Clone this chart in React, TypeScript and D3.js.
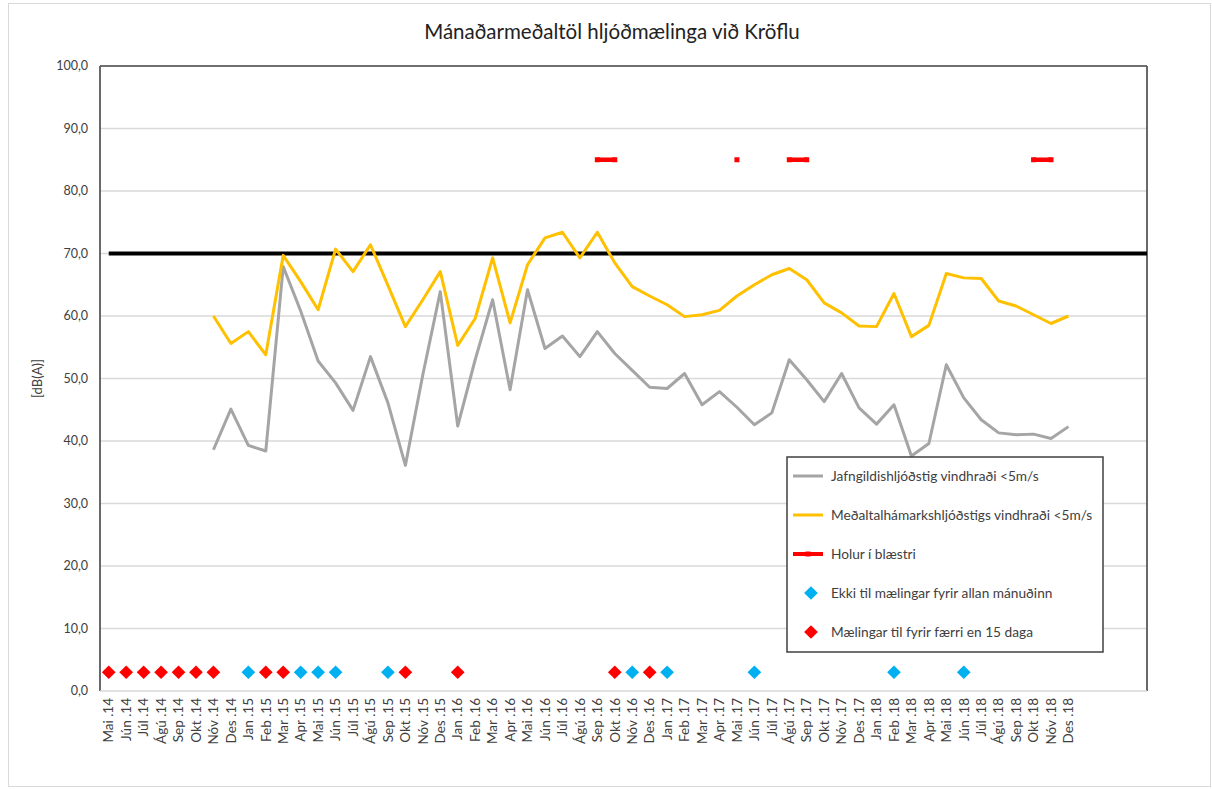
import React from "react";
import * as d3 from "d3";

const TITLE = "Mánaðarmeðaltöl hljóðmælinga við Kröflu";
const Y_LABEL = "[dB(A)]";

const months = [
  "Mai .14", "Jún .14", "Júl .14", "Ágú .14", "Sep .14", "Okt .14", "Nóv .14", "Des .14",
  "Jan .15", "Feb .15", "Mar .15", "Apr .15", "Mai .15", "Jún .15", "Júl .15", "Ágú .15", "Sep .15", "Okt .15", "Nóv .15", "Des .15",
  "Jan .16", "Feb .16", "Mar .16", "Apr .16", "Mai .16", "Jún .16", "Júl .16", "Ágú .16", "Sep .16", "Okt .16", "Nóv .16", "Des .16",
  "Jan .17", "Feb .17", "Mar .17", "Apr .17", "Mai .17", "Jún .17", "Júl .17", "Ágú .17", "Sep .17", "Okt .17", "Nóv .17", "Des .17",
  "Jan .18", "Feb .18", "Mar .18", "Apr .18", "Mai .18", "Jún .18", "Júl .18", "Ágú .18", "Sep .18", "Okt .18", "Nóv .18", "Des .18",
];
// empty category slots after the last labelled month
const EMPTY_SLOTS = 4;

const jafngildi: (number | null)[] = [
  null, null, null, null, null, null, 38.6, 45.1,
  39.3, 38.4, 67.9, 60.8, 52.8, 49.3, 44.9, 53.5, 46.1, 36.1, 50.6, 63.9,
  42.4, 53.0, 62.6, 48.2, 64.2, 54.8, 56.8, 53.5, 57.5, 54.0, 51.3, 48.6,
  48.4, 50.8, 45.8, 47.9, 45.4, 42.6, 44.5, 53.0, 49.8, 46.3, 50.8, 45.3,
  42.7, 45.8, 37.6, 39.6, 52.2, 46.9, 43.4, 41.3, 41.0, 41.1, 40.4, 42.3,
];

const hamark: (number | null)[] = [
  null, null, null, null, null, null, 60.0, 55.6,
  57.5, 53.8, 69.7, 65.5, 61.0, 70.7, 67.1, 71.4, 64.9, 58.3, 62.6, 67.1,
  55.3, 59.6, 69.3, 58.9, 68.2, 72.5, 73.4, 69.3, 73.4, 68.5, 64.7, 63.2,
  61.8, 59.9, 60.2, 60.9, 63.2, 65.0, 66.6, 67.6, 65.8, 62.1, 60.5, 58.4,
  58.3, 63.6, 56.7, 58.5, 66.8, 66.1, 66.0, 62.4, 61.6, 60.2, 58.8, 60.0,
];

const holur: (number | null)[] = [
  null, null, null, null, null, null, null, null,
  null, null, null, null, null, null, null, null, null, null, null, null,
  null, null, null, null, null, null, null, null, 85, 85, null, null,
  null, null, null, null, 85, null, null, 85, 85, null, null, null,
  null, null, null, null, null, null, null, null, null, 85, 85, null,
];

const ekkiAllanManud = ["Jan .15", "Apr .15", "Mai .15", "Jún .15", "Sep .15", "Nóv .16", "Jan .17", "Jún .17", "Feb .18", "Jún .18"];
const faerriEn15 = ["Mai .14", "Jún .14", "Júl .14", "Ágú .14", "Sep .14", "Okt .14", "Nóv .14", "Feb .15", "Mar .15", "Okt .15", "Jan .16", "Okt .16", "Des .16"];
const MARKER_LEVEL = 3;
const LIMIT = 70;

const yTicks = [0, 10, 20, 30, 40, 50, 60, 70, 80, 90, 100];

const legendItems = [
  { label: "Jafngildishljóðstig vindhraði <5m/s", kind: "line", color: "#A5A5A5" },
  { label: "Meðaltalhámarkshljóðstigs vindhraði <5m/s", kind: "line", color: "#FFC000" },
  { label: "Holur í blæstri", kind: "dash", color: "#FF0000" },
  { label: "Ekki til mælingar fyrir allan mánuðinn", kind: "diamond", color: "#00B0F0" },
  { label: "Mælingar til fyrir færri en 15 daga", kind: "diamond", color: "#FF0000" },
];

const FONT = "Lato, 'Open Sans', sans-serif";

export default function App() {
  const W = 1212, H = 789;
  const left = 100, right = 1147, top = 66, bottom = 691;

  const slots = d3.range(months.length + EMPTY_SLOTS);
  const x = d3.scalePoint<number>().domain(slots).range([left, right]).padding(0.5);
  const y = d3.scaleLinear().domain([0, 100]).range([bottom, top]);

  const line = d3
    .line<number | null>()
    .defined((d) => d !== null)
    .x((_, i) => x(i) as number)
    .y((d) => y(d as number));

  const diamond = d3.symbol().type(d3.symbolDiamond2 ?? d3.symbolDiamond).size(120)();

  const lx = 787, ly = 457, lw = 316, lh = 195;

  return (
    <svg width={W} height={H} style={{ position: "absolute", left: 0, top: 0, background: "#fff" }} fontFamily={FONT}>
      <rect x={8.5} y={3.5} width={1202} height={783} fill="#fff" stroke="#d9d9d9" />
      <text x={612} y={39} textAnchor="middle" fontSize={20.5} fill="#222">{TITLE}</text>

      {yTicks.map((t) => (
        <g key={t}>
          {t > 0 && t < 100 && (
            <line x1={left} x2={right} y1={y(t)} y2={y(t)} stroke="#d9d9d9" strokeWidth={1.3} />
          )}
          <text x={88} y={y(t)} dy="0.35em" textAnchor="end" fontSize={12.5} fill="#404040">
            {d3.format(".1f")(t).replace(".", ",")}
          </text>
        </g>
      ))}

      <text transform={`translate(42,${(top + bottom) / 2}) rotate(-90)`} textAnchor="middle" fontSize={13} fill="#404040">
        {Y_LABEL}
      </text>

      {/* plot frame */}
      <line x1={left} x2={right} y1={top} y2={top} stroke="#404040" strokeWidth={1.5} />
      <line x1={right} x2={right} y1={top} y2={bottom} stroke="#595959" strokeWidth={1.8} />
      <line x1={left} x2={left} y1={top} y2={bottom} stroke="#595959" strokeWidth={1.8} />
      <line x1={left} x2={right} y1={bottom} y2={bottom} stroke="#d9d9d9" strokeWidth={1.5} />

      {/* limit line */}
      <line x1={x(0)} x2={right} y1={y(LIMIT)} y2={y(LIMIT)} stroke="#000" strokeWidth={4} />

      <path d={line(jafngildi) || ""} fill="none" stroke="#A5A5A5" strokeWidth={3} strokeLinejoin="round" />
      <path d={line(hamark) || ""} fill="none" stroke="#FFC000" strokeWidth={3} strokeLinejoin="round" />

      <path d={line(holur) || ""} fill="none" stroke="#FF0000" strokeWidth={4.5} />
      {holur.map((v, i) =>
        v === null ? null : (
          <rect key={i} x={(x(i) as number) - 2.5} y={y(v) - 2.5} width={5} height={5} fill="#FF0000" />
        )
      )}

      {ekkiAllanManud.map((m) => (
        <path key={"b" + m} d={diamond || ""} transform={`translate(${x(months.indexOf(m))},${y(MARKER_LEVEL)})`} fill="#00B0F0" />
      ))}
      {faerriEn15.map((m) => (
        <path key={"r" + m} d={diamond || ""} transform={`translate(${x(months.indexOf(m))},${y(MARKER_LEVEL)})`} fill="#FF0000" />
      ))}

      {months.map((m, i) => (
        <text
          key={m}
          transform={`translate(${x(i)},${bottom + 7}) rotate(-90)`}
          dy="0.35em"
          textAnchor="end"
          fontSize={13.5}
          fill="#404040"
        >
          {m}
        </text>
      ))}

      {/* legend */}
      <rect x={lx} y={ly} width={lw} height={lh} fill="#fff" stroke="#404040" strokeWidth={1.5} />
      {legendItems.map((it, i) => {
        const cy = ly + 19 + i * 39;
        return (
          <g key={it.label}>
            {it.kind === "line" && <line x1={793} x2={823} y1={cy} y2={cy} stroke={it.color} strokeWidth={3} />}
            {it.kind === "dash" && (
              <g>
                <line x1={793} x2={823} y1={cy} y2={cy} stroke={it.color} strokeWidth={4} />
                <rect x={805.5} y={cy - 2.5} width={5} height={5} fill={it.color} />
              </g>
            )}
            {it.kind === "diamond" && <path d={diamond || ""} transform={`translate(811,${cy})`} fill={it.color} />}
            <text x={831} y={cy} dy="0.35em" fontSize={13.7} fill="#404040">{it.label}</text>
          </g>
        );
      })}
    </svg>
  );
}
